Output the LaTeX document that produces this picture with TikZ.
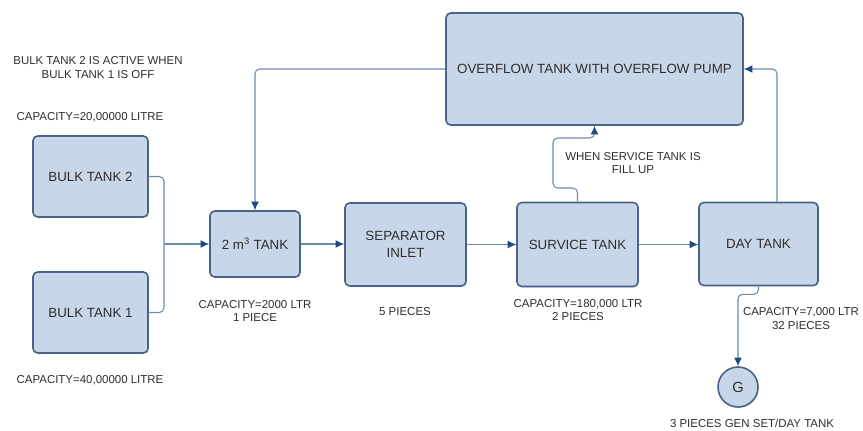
\documentclass[tikz,border=0pt]{standalone}
\usepackage{fontspec}
\setmainfont{Liberation Sans}
\usetikzlibrary{arrows.meta,shadows}
\definecolor{boxfill}{HTML}{C7D6E8}
\definecolor{boxline}{HTML}{4A6389}
\definecolor{connc}{HTML}{6D89B0}
\definecolor{tipc}{HTML}{1F4A80}
\definecolor{txt}{HTML}{2E2E2E}
\newcommand\pxu{0.75pt}
\tikzset{
  tankbox/.style={draw=boxline, fill=boxfill, line width=1.2pt, rounded corners=3.5pt,
    align=center, text=txt, font=\fontsize{10}{12.5}\selectfont, inner sep=2pt,
    drop shadow={opacity=0.2, shadow xshift=0.8pt, shadow yshift=-0.8pt}},
  gcircle/.style={circle, draw=boxline, fill=boxfill, line width=1.2pt, text=txt,
    font=\fontsize{11}{13}\selectfont, inner sep=0pt,
    drop shadow={opacity=0.2, shadow xshift=0.8pt, shadow yshift=-0.8pt}},
  conn/.style={draw=connc, line width=0.8pt, rounded corners=3.5pt},
  arr/.style={conn, -{Latex[length=6.5pt,width=6pt,color=tipc]}},
  lbl/.style={align=center, text=txt, font=\fontsize{8.6}{9.9}\selectfont, inner sep=0pt}
}
\begin{document}
\begin{tikzpicture}[x=0.75pt, y=-0.75pt]
\useasboundingbox (0,0) rectangle (863,430);
% boxes
\node[tankbox, minimum width=297*\pxu, minimum height=112*\pxu] (over) at (594.5,69) {OVERFLOW TANK WITH OVERFLOW PUMP};
\node[tankbox, minimum width=115*\pxu, minimum height=81*\pxu] (bulk2) at (90.5,176.5) {BULK TANK 2};
\node[tankbox, minimum width=115*\pxu, minimum height=81*\pxu] (bulk1) at (90.5,312.5) {BULK TANK 1};
\node[tankbox, minimum width=90*\pxu, minimum height=66*\pxu] (tank2) at (255,244) {2 m\textsuperscript{3} TANK};
\node[tankbox, minimum width=121*\pxu, minimum height=83*\pxu] (sep) at (405.5,244.5) {SEPARATOR\\INLET};
\node[tankbox, minimum width=121*\pxu, minimum height=84*\pxu] (serv) at (577.5,244.5) {SURVICE TANK};
\node[tankbox, minimum width=119*\pxu, minimum height=83*\pxu] (day) at (758.5,244) {DAY TANK};
\node[gcircle, minimum size=40*\pxu] (gen) at (738,387) {G};
% junction coordinates
\coordinate (j) at (164,244);
\coordinate (s1) at (553,188);
\coordinate (s2) at (553,138);
% connectors
\draw[conn] (bulk2.east) -| (j);
\draw[conn] (bulk1.east) -| (j);
\draw[arr] (j) -- (tank2.west);
\draw[arr] (tank2.east) -- (tank2.east -| sep.west);
\draw[arr] (sep.east) -- (sep.east -| serv.west);
\draw[arr] (serv.east) -- (serv.east -| day.west);
\draw[arr] (over.west) -| (tank2.north);
\draw[arr] (serv.north) |- (s1) -- (s2) -| (over.south);
\draw[arr] (day.north) ++(18.5,0) |- (over.east);
\draw[arr] (day.south) -- ++(0,8) -| (gen.north);
% labels
\node[lbl] (l1) at (98,67.5) {BULK TANK 2 IS ACTIVE WHEN\\BULK TANK 1 IS OFF};
\node[lbl] (l2) at (90,117) {CAPACITY=20,00000 LITRE};
\node[lbl] (l3) at (90,380) {CAPACITY=40,00000 LITRE};
\node[lbl] (l4) at (255,311) {CAPACITY=2000 LTR\\1 PIECE};
\node[lbl] (l5) at (405,312) {5 PIECES};
\node[lbl] (l6) at (578,310) {CAPACITY=180,000 LTR\\2 PIECES};
\node[lbl] (l7) at (633,163) {WHEN SERVICE TANK IS\\FILL UP};
\node[lbl] (l8) at (801,318.5) {CAPACITY=7,000 LTR\\32 PIECES};
\node[lbl] (l9) at (752,423) {3 PIECES GEN SET/DAY TANK};
\end{tikzpicture}
\end{document}
